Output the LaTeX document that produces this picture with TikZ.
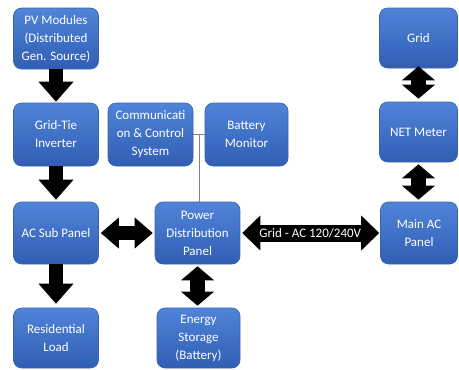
\documentclass[tikz,border=0pt]{standalone}
\usepackage{fontspec}
\setmainfont{Carlito}
\usetikzlibrary{arrows.meta,calc}

\definecolor{boxtop}{RGB}{80,132,216}
\definecolor{boxbot}{RGB}{48,94,180}
\definecolor{boxline}{RGB}{58,98,170}
\definecolor{linkgray}{RGB}{130,130,130}

\tikzset{
  unit/.style={rounded corners=8pt, top color=boxtop, bottom color=boxbot,
    draw=boxline, line width=0.6pt, text=white, align=center,
    font=\fontsize{13}{18}\selectfont, inner sep=2pt},
  wide/.style={unit, minimum width=85pt, minimum height=62pt},
  narrow/.style={unit, minimum width=78pt, minimum height=61pt},
  flowdown/.style={line width=14pt,
    -{Triangle[width=35pt,length=20pt,line width=0pt]}},
  twoway/.style={line width=14pt,
    {Triangle[width=31pt,length=18pt,line width=0pt]}-{Triangle[width=31pt,length=18pt,line width=0pt]}},
  twowayv/.style={line width=15pt,
    {Triangle[width=33pt,length=14pt,line width=0pt]}-{Triangle[width=33pt,length=14pt,line width=0pt]}},
  mains/.style={line width=17pt,
    {Triangle[width=35pt,length=18pt,line width=0pt]}-{Triangle[width=35pt,length=18pt,line width=0pt]}},
  link/.style={draw=linkgray, line width=0.8pt}
}

\begin{document}
\begin{tikzpicture}[x=1pt,y=-1pt]
\useasboundingbox[fill=white] (0,0) rectangle (459,370);

% left column: generation to load
\node[wide, minimum height=61pt] (pv)  at (56,38.5)  {PV Modules\\(Distributed\\Gen. Source)};
\node[wide, minimum height=63pt] (inv) at (56,134.5) {Grid-Tie\\Inverter};
\node[wide] (sub) at (56,233) {AC Sub Panel};
\node[wide, minimum height=60pt] (res) at (56,338) {Residential\\Load};

% middle column: control, distribution, storage
\node[wide, minimum height=63pt] (comm) at (150.5,134.5) {Communicati\\on \& Control\\System};
\node[wide, minimum width=83pt, minimum height=63pt] (bat) at (246.5,134.5) {Battery\\Monitor};
\node[wide] (pdp) at (197.5,233) {Power\\Distribution\\Panel};
\node[wide, minimum width=83pt, minimum height=60pt] (ess) at (198.5,338) {Energy\\Storage\\(Battery)};

% right column: utility side
\node[narrow, minimum height=60pt] (grid) at (418.5,38) {Grid};
\node[narrow, minimum height=60pt] (net) at (418.5,132) {NET Meter};
\node[narrow, minimum width=77pt, minimum height=62pt] (main) at (419,233) {Main AC\\Panel};

% monitoring link to the distribution panel
\coordinate (tap) at ($(comm.east)!0.5!(bat.west)$);
\draw[link] (comm.east) -- (bat.west);
\draw[link] (tap) -- (tap |- pdp.north);

% one-way power flow
\draw[flowdown, shorten <=-0.5pt, shorten >=1pt] (pv.south) -- (inv.north);
\draw[flowdown, shorten <=-0.5pt, shorten >=2pt] (inv.south) -- (sub.north);
\draw[flowdown, shorten <=-0.5pt, shorten >=4pt] (sub.south) -- (res.north);

% two-way power flow
\draw[twoway, shorten <=2pt, shorten >=2pt] (sub.east) -- (pdp.west);
\draw[twowayv, shorten <=2pt, shorten >=2pt] (pdp.south) -- (pdp.south |- ess.north);
\draw[twowayv, shorten <=-2pt, shorten >=3pt] (grid.south) -- (net.north);
\draw[twowayv, shorten <=2pt, shorten >=2pt] (net.south) -- (net.south |- main.north);
\draw[mains, shorten <=2pt, shorten >=1pt] (pdp.east) -- (main.west)
  node[midway, text=white, font=\fontsize{13}{14}\selectfont, inner sep=0pt] (busl) {Grid - AC 120/240V};
\end{tikzpicture}
\end{document}
